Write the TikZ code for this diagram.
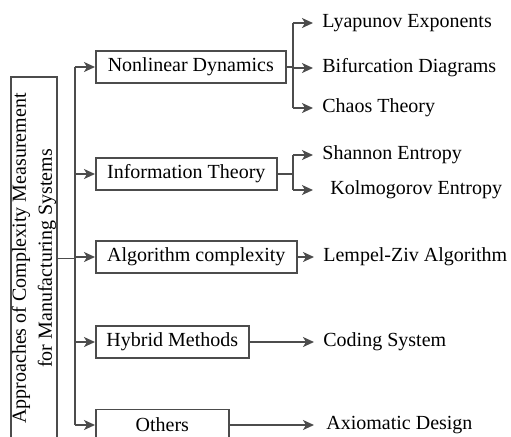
\documentclass[tikz,border=0pt]{standalone}
\usepackage{fontspec}
\setmainfont{Liberation Serif}
\usetikzlibrary{arrows,arrows.meta,positioning}
\tikzset{
    %Define standard arrow tip
    >={Stealth[length=5.5pt,width=5pt,inset=1.5pt]},
    %Define style for boxes
    mainbox/.style={
           rectangle,
           draw=black!70, line width=0.8pt,
           inner xsep=0pt, inner ysep=0.5pt,
           minimum width=181.5pt,
           minimum height=23pt,
           font=\fontsize{10}{13}\selectfont,
           align=center},
    catbox/.style={
           rectangle,
           anchor=west,
           draw=black!70, line width=0.8pt,
           minimum height=15.5pt,
           font=\fontsize{10}{12}\selectfont,
           text centered},
    leaf/.style={
           anchor=west,
           inner xsep=4.5pt,
           font=\fontsize{10}{12}\selectfont},
    % Define arrow style
    pil/.style={
           ->,
           draw=black!70,
           line width=0.8pt},
    line/.style={
           draw=black!70,
           line width=0.8pt}
}
\begin{document}
\begin{tikzpicture}[x=0.5pt,y=-0.5pt]
\useasboundingbox (0,0) rectangle (511,436);

 %nodes
\node[mainbox, rotate=90](appr) at (34,258.5){Approaches of Complexity Measurement\\for Manufacturing Systems};
\node[catbox, minimum width=95pt](nd) at (95,67){Nonlinear Dynamics};
\node[catbox, minimum width=90.5pt](it) at (95,174){Information Theory};
\node[catbox, minimum width=100.5pt](ac) at (95,257){Algorithm complexity};
\node[catbox, minimum width=76.5pt](hm) at (95,342){Hybrid Methods};
\node[catbox, minimum width=66.5pt](ot) at (95,425){Others};

\node[leaf](lyap) at (313,23){Lyapunov Exponents};
\node[leaf](bif) at (313,68){Bifurcation Diagrams};
\node[leaf](chaos) at (313,108){Chaos Theory};
\node[leaf](shan) at (313,155){Shannon Entropy};
\node[leaf, inner xsep=8.5pt](kolm) at (313,190){Kolmogorov Entropy};
\node[leaf](lz) at (314,257){Lempel-Ziv Algorithm};
\node[leaf](cod) at (314,342){Coding System};
\node[leaf, inner xsep=6pt](axd) at (314,425){Axiomatic Design};

 %trunk
\coordinate (ttop) at (75,67);
\coordinate (tbot) at (75,425);
\draw[line] (ttop) -- (tbot);
\draw[line] (appr.south) -- (appr.south -| ttop);
\foreach \n in {nd,it,ac,hm,ot}
    \draw[pil] (\n.west -| ttop) -- (\n.west);

 %branches
\coordinate (ndj) at (293,67);
\draw[line] (nd.east) -- (ndj);
\draw[line] (ndj |- lyap.west) -- (ndj |- chaos.west);
\foreach \n in {lyap,bif,chaos}
    \draw[pil] (ndj |- \n.west) -- (\n.west);

\coordinate (itj) at (293,174);
\draw[line] (it.east) -- (itj);
\draw[line] (itj |- shan.west) -- (itj |- kolm.west);
\foreach \n in {shan,kolm}
    \draw[pil] (itj |- \n.west) -- (\n.west);

\draw[pil] (ac) -- (lz);
\draw[pil] (hm) -- (cod);
\draw[pil] (ot) -- (axd);

\end{tikzpicture}
\end{document}
